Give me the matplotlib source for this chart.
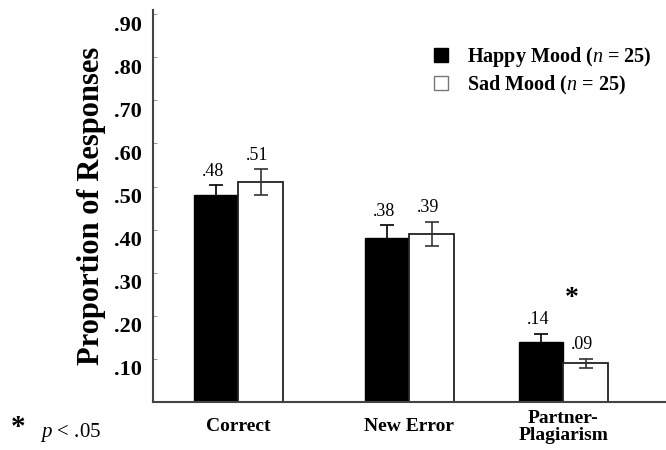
import numpy as np
import matplotlib
matplotlib.use('Agg')
import matplotlib.pyplot as plt
from matplotlib.patches import Patch
from matplotlib.transforms import ScaledTranslation

plt.rcParams['font.family'] = ['Liberation Serif', 'DejaVu Serif']
plt.rcParams['mathtext.fontset'] = 'custom'
plt.rcParams['mathtext.rm'] = 'Liberation Serif'
plt.rcParams['mathtext.it'] = 'Liberation Serif:italic'
plt.rcParams['mathtext.bf'] = 'Liberation Serif:bold'

# data
categories = ['Correct', 'New Error', 'Partner-\nPlagiarism']
happy = [0.48, 0.38, 0.14]
sad = [0.51, 0.39, 0.09]
happy_err = [0.023, 0.03, 0.018]
sad_err = [0.03, 0.028, 0.01]
series_labels = ['Happy Mood ($n$ = 25)', 'Sad Mood ($n$ = 25)']
yticks = [0.1, 0.2, 0.3, 0.4, 0.5, 0.6, 0.7, 0.8, 0.9]

# layout
centers = np.array([0.0, 1.0, 1.9])
w = 0.26

fig = plt.figure(figsize=(6.66, 4.5), dpi=100)
ax = fig.add_axes([0.2297, 0.1067, 0.7703, 0.8713])

ax.bar(centers - w / 2, happy, w, color='black', edgecolor='black',
       yerr=happy_err, zorder=2,
       error_kw=dict(ecolor='black', elinewidth=1.2, capsize=5, capthick=1.2))
ax.bar(centers + w / 2, sad, w, color='white', edgecolor='#222222',
       linewidth=1.3, yerr=sad_err, zorder=2,
       error_kw=dict(ecolor='#333333', elinewidth=1.2, capsize=5, capthick=1.2))

for xs, vals, errs in [(centers - w / 2, happy, happy_err),
                       (centers + w / 2, sad, sad_err)]:
    for x, v, e in zip(xs, vals, errs):
        ax.annotate(f'{v:.2f}'[1:], (x - 0.02, v + e), xytext=(0, 4),
                    textcoords='offset points', ha='center', va='bottom',
                    fontsize=13)

ax.text(centers[2] + 0.05, 0.24, '*', fontsize=20, fontweight='bold',
        ha='center', va='center')

ax.set_xlim(-0.5, 2.5)
ax.set_ylim(0, 0.91)
ax.set_yticks(yticks)
ax.set_yticklabels([f'{t:.2f}'[1:] for t in yticks], fontsize=16,
                   fontweight='bold')
ax.tick_params(axis='y', direction='in', length=3, color='#999999', pad=8)
off = ScaledTranslation(0, -0.09, fig.dpi_scale_trans)
for lbl in ax.get_yticklabels():
    lbl.set_transform(lbl.get_transform() + off)

ax.set_xticks(centers)
ax.set_xticklabels(categories, fontsize=14, fontweight='bold',
                   linespacing=1.05)
ax.tick_params(axis='x', length=0, pad=18)
for lbl in ax.get_xticklabels():
    lbl.set_va('center')

for s in ['top', 'right']:
    ax.spines[s].set_visible(False)
for s in ['left', 'bottom']:
    ax.spines[s].set_color('#444444')
    ax.spines[s].set_linewidth(1.5)

ax.set_ylabel('Proportion of Responses', fontsize=22, fontweight='bold',
              labelpad=6)

handles = [Patch(facecolor='black', edgecolor='black'),
           Patch(facecolor='white', edgecolor='#777777')]
ax.legend(handles, series_labels, loc='upper left',
          bbox_to_anchor=(0.625, 0.94), bbox_transform=fig.transFigure,
          frameon=False, handlelength=0.7, handleheight=0.7,
          handletextpad=0.9, labelspacing=0.22,
          prop={'weight': 'bold', 'size': 14.5})

fig.text(0.016, 0.05, '*', fontsize=21, fontweight='bold', va='center')
fig.text(0.06, 0.038, '$p$ < .05', fontsize=15, va='center')

fig.savefig('out.png', dpi=100)
